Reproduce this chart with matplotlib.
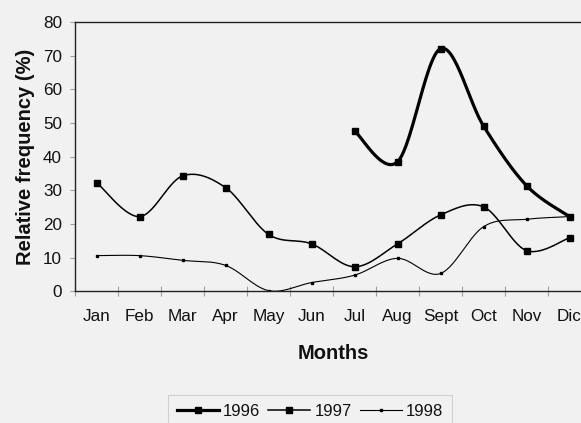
import numpy as np
import matplotlib
matplotlib.use("Agg")
import matplotlib.pyplot as plt

months = ["Jan", "Feb", "Mar", "Apr", "May", "Jun", "Jul", "Aug", "Sept", "Oct", "Nov", "Dic"]
y1996 = [None, None, None, None, None, None, 47.6, 38.5, 72.1, 49.1, 31.4, 22.2]
y1997 = [32.3, 22.2, 34.3, 30.8, 16.9, 14.1, 7.3, 14.1, 22.7, 25.1, 12.1, 15.9]
y1998 = [10.6, 10.6, 9.2, 7.7, 0.2, 2.6, 4.8, 9.8, 5.3, 19.2, 21.4, 22.2]
years = ["1996", "1997", "1998"]

plt.rcParams['font.family'] = ['Liberation Sans', 'DejaVu Sans']
BG = '#f1f1f1'
TXT = '#111111'


def smooth(xs, ys, n=30):
    """Excel-like smoothed line (Catmull-Rom Bezier)."""
    pts = [(x, y) for x, y in zip(xs, ys) if y is not None]
    P = np.array(pts, dtype=float)
    if len(P) < 2:
        return P[:, 0], P[:, 1]
    ext = np.vstack([P[0], P, P[-1]])
    out = []
    t = np.linspace(0, 1, n)[:, None]
    for i in range(1, len(ext) - 2):
        p0, p1, p2, p3 = ext[i - 1], ext[i], ext[i + 1], ext[i + 2]
        c1 = p1 + (p2 - p0) / 6.0
        c2 = p2 - (p3 - p1) / 6.0
        seg = ((1 - t) ** 3) * p1 + 3 * ((1 - t) ** 2) * t * c1 + 3 * (1 - t) * t ** 2 * c2 + t ** 3 * p2
        out.append(seg if i == 1 else seg[1:])
    S = np.vstack(out)
    return S[:, 0], S[:, 1]


fig = plt.figure(figsize=(5.81, 4.23), dpi=100, facecolor=BG)
ax = fig.add_axes([0.1294, 0.3113, 0.8878, 0.6366], facecolor=BG)

x = np.arange(len(months))
styles = [
    (y1996, 2.3, 4.0),
    (y1997, 1.1, 4.0),
    (y1998, 0.8, 1.6),
]
handles = []
for (ys, lw, ms), lab in zip(styles, years):
    sx, sy = smooth(x, ys)
    ax.plot(sx, sy, color='black', lw=lw, solid_capstyle='round')
    mx = [xi for xi, yi in zip(x, ys) if yi is not None]
    my = [yi for yi in ys if yi is not None]
    ax.plot(mx, my, ls='none', marker='s', ms=ms, color='black')
    h, = ax.plot([], [], color='black', lw=lw, marker='s', ms=ms, label=lab)
    handles.append(h)

ax.set_xlim(-0.5, len(months) - 0.5)
ax.set_ylim(0, 80)
ax.set_yticks(np.arange(0, 81, 10))
ax.set_xticks(x)
ax.set_xticklabels(months)
ax.set_xticks(np.arange(-0.5, len(months), 1.0), minor=True)
ax.tick_params(axis='x', which='major', length=0, pad=13, labelsize=12.3, labelcolor=TXT)
ax.tick_params(axis='x', which='minor', length=7, direction='inout', color='#a0a0a0', width=0.8)
ax.tick_params(axis='y', which='major', length=3.5, direction='out', color='#a0a0a0', width=0.8,
               pad=6, labelsize=12.3, labelcolor=TXT)

for s in ['left', 'bottom', 'top', 'right']:
    ax.spines[s].set_color('#222222')
    ax.spines[s].set_linewidth(1.0)

ax.set_xlabel("Months", fontsize=14.5, fontweight='bold', labelpad=14, color=TXT)
ax.set_ylabel("Relative frequency (%)", fontsize=14.5, fontweight='bold', labelpad=6, color=TXT)

leg = fig.legend(handles=handles, loc='upper center', bbox_to_anchor=(310 / 581, 1 - 395 / 423),
                 ncol=3, frameon=True, fancybox=False, fontsize=12, handlelength=2.5,
                 handletextpad=0.25, columnspacing=0.5, borderpad=0.55, borderaxespad=0)
leg.get_frame().set_edgecolor('#c8c8c8')
leg.get_frame().set_facecolor(BG)
leg.get_frame().set_linewidth(0.8)
for t in leg.get_texts():
    t.set_color(TXT)

fig.savefig("out.png", dpi=100, facecolor=BG)
